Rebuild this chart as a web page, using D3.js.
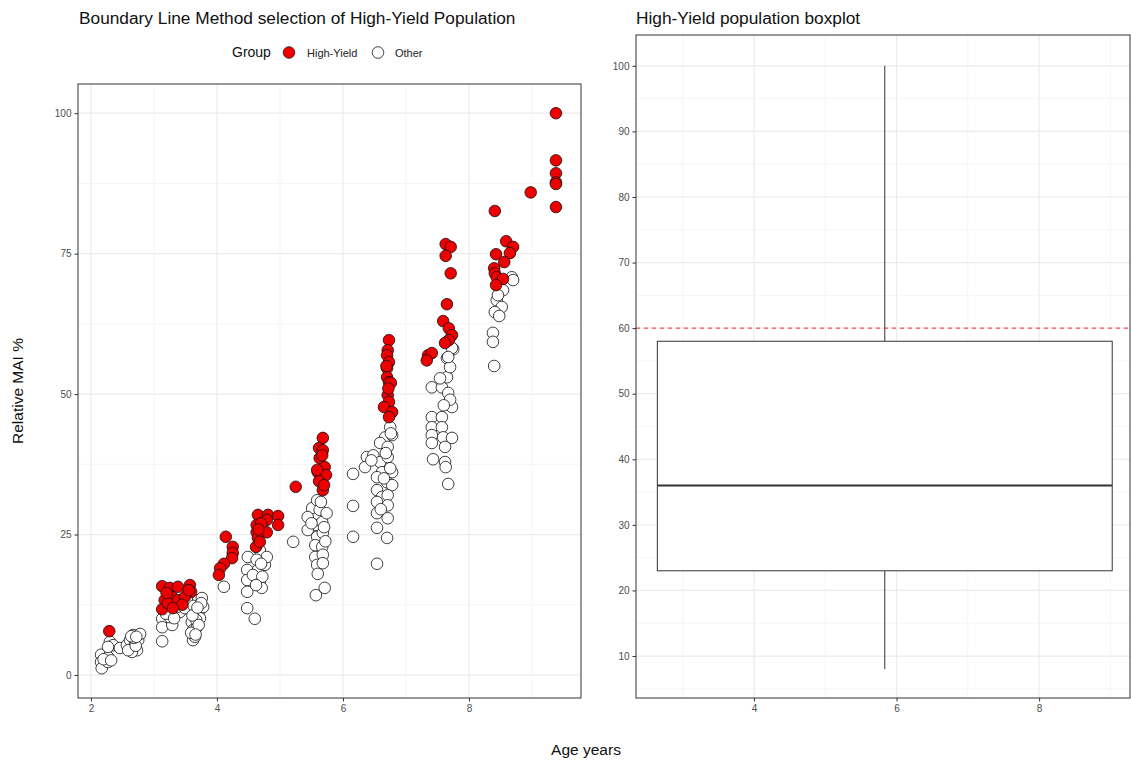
<!DOCTYPE html>
<html>
<head>
<meta charset="utf-8">
<script src="https://cdn.jsdelivr.net/npm/d3@7"></script>
<style>
  body { margin: 0; background: #fff; }
  svg text { font-family: "Liberation Sans", Arial, sans-serif; }
  .tick text { fill: #4d4d4d; font-size: 10px; }
  .tick line { stroke: #333; }
  .domain { display: none; }
</style>
</head>
<body>
<div class="chart"></div>
<script>
// High-Yield points [age, relative MAI]
let highYield = [
    [2.29, 7.8],
    [3.13, 15.8], [3.25, 15.5], [3.38, 15.7], [3.57, 16.0], [3.59, 14.8], [3.29, 13.9], [3.17, 13.3],
    [3.13, 11.7], [3.22, 12.8], [3.38, 13.3], [3.49, 13.9], [3.45, 12.5], [3.30, 11.9], [3.55, 15.1], [3.20, 14.6],
    [4.14, 24.6], [4.25, 22.8], [4.25, 21.7], [4.24, 20.8], [4.11, 19.8], [4.05, 19.0], [4.03, 17.8],
    [4.65, 28.5], [4.81, 28.5], [4.97, 28.3], [4.97, 26.7], [4.79, 27.6], [4.63, 26.7], [4.63, 25.4], [4.79, 25.4],
    [4.65, 24.4], [4.62, 22.8], [4.68, 23.7], [4.70, 27.0], [4.66, 25.9],
    [5.25, 33.5],
    [5.68, 42.2], [5.62, 40.4], [5.68, 40.0], [5.63, 38.6], [5.71, 37.0], [5.60, 36.1], [5.73, 35.6], [5.62, 34.5],
    [5.68, 32.9], [5.67, 39.1], [5.59, 36.5], [5.70, 33.8],
    [6.73, 59.6], [6.71, 57.8], [6.70, 56.9], [6.73, 55.7], [6.70, 54.6], [6.70, 53.0], [6.73, 52.1], [6.76, 52.0],
    [6.71, 49.8], [6.73, 48.6], [6.65, 47.7], [6.78, 46.8], [6.73, 45.9], [6.72, 51.0], [6.69, 55.0],
    [7.63, 76.7], [7.71, 76.2], [7.63, 74.6], [7.71, 71.5], [7.65, 66.0], [7.59, 63.0], [7.68, 61.7], [7.73, 60.5],
    [7.68, 59.6], [7.62, 59.1], [7.35, 56.9], [7.41, 57.3], [7.33, 56.0],
    [8.41, 82.6], [8.59, 77.2], [8.70, 76.2], [8.65, 75.1], [8.43, 74.9], [8.56, 73.5], [8.40, 72.4], [8.41, 71.5],
    [8.44, 70.8], [8.54, 70.5], [8.43, 69.4],
    [8.98, 85.9], [9.38, 100], [9.38, 91.6], [9.38, 89.3], [9.38, 87.7], [9.38, 87.4], [9.38, 83.3]
];

// Other points [age, relative MAI]
let other = [
    [2.16, 3.6], [2.16, 2.3], [2.17, 1.2], [2.27, 2.3], [2.27, 3.2], [2.30, 5.9], [2.35, 5.3], [2.27, 5.0], [2.20, 2.8], [2.32, 2.6],
    [2.46, 4.8], [2.57, 5.3], [2.62, 6.2], [2.67, 7.1], [2.70, 5.7], [2.73, 4.4], [2.65, 4.1], [2.75, 6.2], [2.59, 4.4],
    [2.78, 7.3], [2.71, 5.2], [2.68, 6.6], [2.64, 6.9], [2.72, 6.8],
    [3.13, 10.0], [3.13, 8.5], [3.13, 6.0], [3.29, 8.9], [3.25, 10.3], [3.41, 11.2], [3.37, 12.1], [3.19, 10.9], [3.32, 10.1],
    [3.54, 13.0], [3.70, 13.3], [3.76, 13.7], [3.73, 11.6], [3.65, 11.0], [3.60, 9.4], [3.62, 8.0], [3.62, 6.2],
    [3.65, 6.8], [3.68, 8.5], [3.73, 10.1], [3.78, 12.1], [3.49, 11.9], [3.59, 7.5], [3.67, 9.8], [3.71, 8.9],
    [3.63, 12.3], [3.66, 7.2], [3.75, 12.8], [3.61, 10.6], [3.69, 12.0],
    [4.11, 15.7],
    [4.49, 21.0], [4.48, 18.7], [4.48, 16.9], [4.48, 14.8], [4.48, 11.9], [4.60, 10.0], [4.65, 18.7], [4.68, 16.5],
    [4.71, 15.5], [4.76, 19.6], [4.68, 22.2], [4.79, 21.0], [4.63, 20.5], [4.57, 17.8], [4.72, 17.5], [4.62, 16.0],
    [4.70, 19.8], [5.21, 23.7],
    [5.51, 29.7], [5.59, 31.1], [5.63, 29.4], [5.44, 28.1], [5.56, 26.7], [5.67, 27.2], [5.44, 25.8], [5.59, 24.6],
    [5.68, 25.3], [5.56, 23.1], [5.67, 22.8], [5.56, 21.0], [5.68, 21.4], [5.59, 19.6], [5.68, 19.9], [5.57, 14.2],
    [5.71, 15.5], [5.74, 28.8], [5.72, 23.8], [5.50, 27.0], [5.60, 18.0], [5.65, 30.8], [5.70, 26.3],
    [6.16, 35.8], [6.16, 30.1], [6.16, 24.6],
    [6.75, 44.1], [6.67, 42.3], [6.78, 42.7], [6.59, 41.3], [6.71, 40.6], [6.38, 38.8], [6.35, 37.0], [6.48, 39.1],
    [6.59, 37.9], [6.71, 38.8], [6.62, 36.1], [6.78, 36.1], [6.54, 35.2], [6.70, 34.3], [6.54, 32.9], [6.78, 33.8],
    [6.62, 31.7], [6.71, 32.0], [6.54, 30.8], [6.71, 30.2], [6.54, 28.8], [6.71, 27.9], [6.54, 26.2], [6.70, 24.4],
    [6.54, 19.8], [6.60, 29.5], [6.65, 35.0], [6.75, 36.8], [6.45, 38.2], [6.76, 43.0], [6.68, 39.5],
    [7.75, 58.0], [7.65, 56.4], [7.41, 51.2], [7.57, 51.2], [7.65, 53.0], [7.67, 50.2], [7.73, 47.7], [7.41, 45.9],
    [7.57, 45.9], [7.41, 44.1], [7.57, 44.1], [7.41, 42.7], [7.41, 41.3], [7.59, 42.3], [7.73, 42.2], [7.62, 40.6],
    [7.43, 38.4], [7.62, 37.9], [7.63, 37.0], [7.67, 34.0], [7.70, 54.8], [7.54, 52.8], [7.73, 58.2], [7.67, 56.6],
    [7.70, 49.0], [7.60, 48.0],
    [8.68, 70.8], [8.54, 68.5], [8.44, 66.7], [8.52, 65.5], [8.41, 64.6], [8.48, 63.9], [8.38, 60.9], [8.38, 59.3],
    [8.40, 55.0], [8.46, 67.6], [8.70, 70.3]
];

let yTicksLeft = [0, 25, 50, 75, 100];
let xTicksLeft = [2, 4, 6, 8];
let yTicksRight = [10, 20, 30, 40, 50, 60, 70, 80, 90, 100];
let xTicksRight = [4, 6, 8];

// boxplot summary of High-Yield MAI: lower whisker, Q1, median, Q3, upper whisker
let boxStats = [8.0, 23.0, 36.0, 58.0, 100.0];
let cutoff = 60;

let svg = d3.select(".chart").append("svg")
    .attr("width", 1131)
    .attr("height", 761);

let gridMajor = "#ebebeb";
let gridMinor = "#f5f5f5";

// ---------- left panel ----------
let lp = { left: 78, right: 581, top: 84, bottom: 698 };

let xLeft = d3.scaleLinear().domain([1.794, 9.778]).range([lp.left, lp.right]);
let yLeft = d3.scaleLinear().domain([-4.1, 105.2]).range([lp.bottom, lp.top]);

let left = svg.append("g");

function drawGrid(g, x, y, xMajor, yMajor, xMinor, yMinor, p) {
    g.selectAll(".ymin").data(yMinor).enter().append("line")
        .attr("x1", p.left).attr("x2", p.right)
        .attr("y1", d => y(d)).attr("y2", d => y(d))
        .attr("stroke", gridMinor).attr("stroke-width", 1);
    g.selectAll(".xmin").data(xMinor).enter().append("line")
        .attr("y1", p.top).attr("y2", p.bottom)
        .attr("x1", d => x(d)).attr("x2", d => x(d))
        .attr("stroke", gridMinor).attr("stroke-width", 1);
    g.selectAll(".ymaj").data(yMajor).enter().append("line")
        .attr("x1", p.left).attr("x2", p.right)
        .attr("y1", d => y(d)).attr("y2", d => y(d))
        .attr("stroke", gridMajor).attr("stroke-width", 1.2);
    g.selectAll(".xmaj").data(xMajor).enter().append("line")
        .attr("y1", p.top).attr("y2", p.bottom)
        .attr("x1", d => x(d)).attr("x2", d => x(d))
        .attr("stroke", gridMajor).attr("stroke-width", 1.2);
}

drawGrid(left, xLeft, yLeft, xTicksLeft, yTicksLeft,
    [3, 5, 7, 9], [12.5, 37.5, 62.5, 87.5], lp);

// points: Other first, High-Yield on top
left.selectAll(".other").data(other).enter().append("circle")
    .attr("cx", d => xLeft(d[0]))
    .attr("cy", d => yLeft(d[1]))
    .attr("r", 5.8)
    .attr("fill", "#fff")
    .attr("stroke", "#111")
    .attr("stroke-width", 0.8);

left.selectAll(".hy").data(highYield).enter().append("circle")
    .attr("cx", d => xLeft(d[0]))
    .attr("cy", d => yLeft(d[1]))
    .attr("r", 5.8)
    .attr("fill", "#ee0000")
    .attr("stroke", "#111")
    .attr("stroke-width", 0.8);

left.append("rect")
    .attr("x", lp.left).attr("y", lp.top)
    .attr("width", lp.right - lp.left).attr("height", lp.bottom - lp.top)
    .attr("fill", "none").attr("stroke", "#333").attr("stroke-width", 1);

left.append("g")
    .attr("transform", `translate(0, ${lp.bottom})`)
    .call(d3.axisBottom(xLeft).tickValues(xTicksLeft).tickSize(3.5).tickPadding(3).tickFormat(d3.format("d")));

left.append("g")
    .attr("transform", `translate(${lp.left}, 0)`)
    .call(d3.axisLeft(yLeft).tickValues(yTicksLeft).tickSize(3.5).tickPadding(3).tickFormat(d3.format("d")));

svg.append("text")
    .attr("x", 79).attr("y", 24)
    .attr("font-size", 17.3).attr("fill", "#111")
    .text("Boundary Line Method selection of High-Yield Population");

// legend
let legend = svg.append("g");
legend.append("text").attr("x", 232).attr("y", 57)
    .attr("font-size", 14).attr("fill", "#111").text("Group");
legend.append("circle").attr("cx", 289).attr("cy", 52.5).attr("r", 5.8)
    .attr("fill", "#ee0000").attr("stroke", "#111").attr("stroke-width", 0.8);
legend.append("text").attr("x", 307).attr("y", 56.5)
    .attr("font-size", 11).attr("fill", "#222").text("High-Yield");
legend.append("circle").attr("cx", 378).attr("cy", 52.5).attr("r", 5.8)
    .attr("fill", "#fff").attr("stroke", "#111").attr("stroke-width", 0.8);
legend.append("text").attr("x", 395).attr("y", 56.5)
    .attr("font-size", 11).attr("fill", "#222").text("Other");

// ---------- right panel ----------
let rp = { left: 636, right: 1130, top: 35, bottom: 698 };

let xRight = d3.scaleLinear().domain([2.345, 9.275]).range([rp.left, rp.right]);
let yRight = d3.scaleLinear().domain([3.6, 104.7]).range([rp.bottom, rp.top]);

let right = svg.append("g");
drawGrid(right, xRight, yRight, xTicksRight, yTicksRight,
    [3, 5, 7, 9], [5, 15, 25, 35, 45, 55, 65, 75, 85, 95], rp);

// box spans 90% of the High-Yield age range, centred on its midpoint
let ageExtent = d3.extent(highYield, d => d[0]);
let boxMid = (ageExtent[0] + ageExtent[1]) / 2;
let boxHalf = (ageExtent[1] - ageExtent[0]) * 0.9 / 2;

right.append("line")
    .attr("x1", xRight(boxMid)).attr("x2", xRight(boxMid))
    .attr("y1", yRight(boxStats[0])).attr("y2", yRight(boxStats[1]))
    .attr("stroke", "#333").attr("stroke-width", 1);
right.append("line")
    .attr("x1", xRight(boxMid)).attr("x2", xRight(boxMid))
    .attr("y1", yRight(boxStats[3])).attr("y2", yRight(boxStats[4]))
    .attr("stroke", "#333").attr("stroke-width", 1);
right.append("rect")
    .attr("x", xRight(boxMid - boxHalf))
    .attr("y", yRight(boxStats[3]))
    .attr("width", xRight(boxMid + boxHalf) - xRight(boxMid - boxHalf))
    .attr("height", yRight(boxStats[1]) - yRight(boxStats[3]))
    .attr("fill", "#fff").attr("stroke", "#333").attr("stroke-width", 1);
right.append("line")
    .attr("x1", xRight(boxMid - boxHalf)).attr("x2", xRight(boxMid + boxHalf))
    .attr("y1", yRight(boxStats[2])).attr("y2", yRight(boxStats[2]))
    .attr("stroke", "#333").attr("stroke-width", 2);

right.append("line")
    .attr("x1", rp.left).attr("x2", rp.right)
    .attr("y1", yRight(cutoff)).attr("y2", yRight(cutoff))
    .attr("stroke", "#ff2020").attr("stroke-width", 1)
    .attr("stroke-dasharray", "4,4");

right.append("rect")
    .attr("x", rp.left).attr("y", rp.top)
    .attr("width", rp.right - rp.left).attr("height", rp.bottom - rp.top)
    .attr("fill", "none").attr("stroke", "#333").attr("stroke-width", 1);

right.append("g")
    .attr("transform", `translate(0, ${rp.bottom})`)
    .call(d3.axisBottom(xRight).tickValues(xTicksRight).tickSize(3.5).tickPadding(3).tickFormat(d3.format("d")));

right.append("g")
    .attr("transform", `translate(${rp.left}, 0)`)
    .call(d3.axisLeft(yRight).tickValues(yTicksRight).tickSize(3.5).tickPadding(3).tickFormat(d3.format("d")));

svg.append("text")
    .attr("x", 636).attr("y", 24)
    .attr("font-size", 17.3).attr("fill", "#111")
    .text("High-Yield population boxplot");

// shared axis titles
svg.append("text")
    .attr("x", 586).attr("y", 755)
    .attr("text-anchor", "middle")
    .attr("font-size", 15.5).attr("fill", "#111")
    .text("Age years");

svg.append("text")
    .attr("transform", "translate(23, 391) rotate(-90)")
    .attr("text-anchor", "middle")
    .attr("font-size", 15.5).attr("fill", "#111")
    .text("Relative MAI %");
</script>
</body>
</html>
